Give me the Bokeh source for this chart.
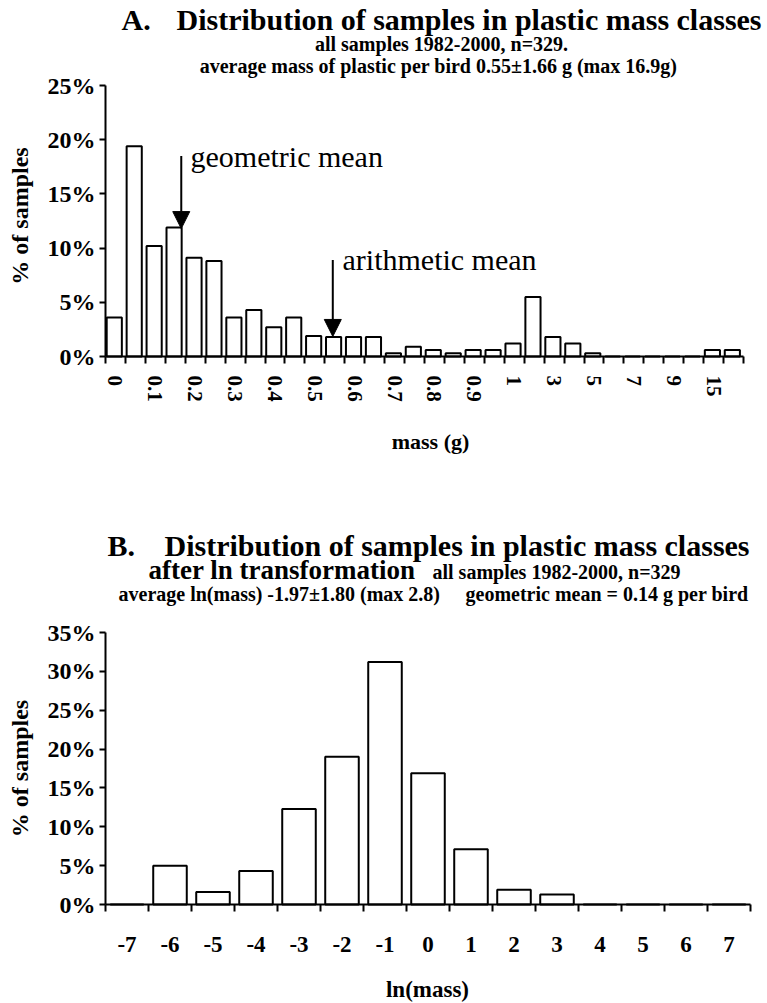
import math
from bokeh.plotting import figure
from bokeh.models import Range1d, FixedTicker, Label, Arrow, NormalHead, ColumnDataSource
from bokeh.layouts import column
from bokeh.embed import file_html
from bokeh.resources import INLINE

FONT = "Liberation Serif"

# ---------------- Panel A data: plastic mass classes (g) ----------------
mass_classes = ["0", "0.05", "0.1", "0.15", "0.2", "0.25", "0.3", "0.35", "0.4", "0.45",
                "0.5", "0.55", "0.6", "0.65", "0.7", "0.75", "0.8", "0.85", "0.9", "0.95",
                "1", "2", "3", "4", "5", "6", "7", "8", "9", "10", "15", "20"]
mass_pct = [3.6, 19.4, 10.2, 11.9, 9.1, 8.8, 3.6, 4.3, 2.7, 3.6,
            1.9, 1.8, 1.8, 1.8, 0.3, 0.9, 0.6, 0.3, 0.6, 0.6,
            1.2, 5.5, 1.8, 1.2, 0.3, 0, 0, 0, 0, 0, 0.6, 0.6]
mass_tick_labels = ["0", "0.1", "0.2", "0.3", "0.4", "0.5", "0.6", "0.7", "0.8", "0.9",
                    "1", "3", "5", "7", "9", "15"]
pct_ticks_a = [0, 5, 10, 15, 20, 25]
# arrow annotations (class-axis position, arrow top %, arrow tip %)
geo_arrow = (3.8, 18.5, 11.8)
arith_arrow = (11.4, 8.9, 1.85)

# ---------------- Panel B data: ln(mass) classes ----------------
ln_classes = [-7, -6, -5, -4, -3, -2, -1, 0, 1, 2, 3, 4, 5, 6, 7]
ln_pct = [0, 5.0, 1.6, 4.3, 12.3, 19.0, 31.2, 16.9, 7.1, 1.9, 1.3, 0, 0, 0, 0]
pct_ticks_b = [0, 5, 10, 15, 20, 25, 30, 35]

# ---------------- layout (page pixels) ----------------
W = 767
A_H = 488                      # height of panel A figure
B_H = 1003 - A_H               # height of panel B figure
LEFT = 105                     # y-axis position
A_AXIS_TOP, A_AXIS_BOT, A_AXIS_RIGHT = 85, 356, 743
B_AXIS_TOP, B_AXIS_BOT, B_AXIS_RIGHT = 632, 904, 750


def style_axes(p):
    for ax in (p.xaxis[0], p.yaxis[0]):
        ax.axis_line_color = "black"
        ax.axis_line_width = 2
        ax.major_tick_line_color = "black"
        ax.major_tick_line_width = 2
        ax.minor_tick_line_color = "black"
        ax.minor_tick_line_width = 2
        ax.major_label_text_font = FONT
        ax.major_label_text_font_style = "bold"
        ax.major_label_text_color = "black"
    p.yaxis.major_label_text_font_size = "24px"
    p.yaxis.major_tick_out = 6
    p.yaxis.major_tick_in = 0
    p.yaxis.major_label_standoff = 4
    p.xaxis.major_tick_out = 0
    p.xaxis.major_tick_in = 0
    p.xaxis.minor_tick_out = 7
    p.xaxis.minor_tick_in = 0
    p.xgrid.visible = False
    p.ygrid.visible = False
    p.outline_line_color = None
    p.background_fill_color = "white"
    p.border_fill_color = "white"


def make_label(x, y, text, size, bold=True, align="left", angle=0.0):
    return Label(x=x, y=y, text=text, text_font=FONT, text_font_size=size,
                 text_font_style="bold" if bold else "normal", angle=angle,
                 text_color="black", text_align=align, text_baseline="middle")


# ======================= Panel A =======================
n_a = len(mass_classes)
a_px_x = (A_AXIS_RIGHT - LEFT) / n_a          # pixels per class
a_px_y = (A_AXIS_BOT - A_AXIS_TOP) / 25.0     # pixels per percent


def pos_a(px, py):
    return (px - LEFT) / a_px_x, (A_AXIS_BOT - py) / a_px_y


centers_a = [i + 0.5 for i in range(n_a)]
src_a = ColumnDataSource(dict(x=[c - 0.06 for c in centers_a], top=mass_pct, cls=mass_classes))

pa = figure(width=W, height=A_H, title=None,
            x_range=Range1d(pos_a(0, 0)[0], pos_a(W, 0)[0]),
            y_range=Range1d(pos_a(0, A_H)[1], pos_a(0, 0)[1]),
            output_backend="svg", toolbar_location=None,
            min_border_left=0, min_border_right=0, min_border_top=0, min_border_bottom=0)
pa.vbar(x="x", top="top", width=0.76, source=src_a,
        fill_color="white", line_color="black", line_width=2)

style_axes(pa)
lab_idx = [i for i, c in enumerate(mass_classes) if c in mass_tick_labels]
pa.xaxis.ticker = FixedTicker(ticks=[centers_a[i] for i in lab_idx],
                              minor_ticks=list(range(n_a + 1)))
pa.xaxis.major_label_overrides = {centers_a[i]: mass_classes[i] for i in lab_idx}
pa.xaxis.major_label_orientation = "vertical"
pa.xaxis.major_label_text_font_size = "21px"
pa.xaxis.major_label_standoff = 12
pa.xaxis.bounds = (0, n_a)
pa.xaxis.fixed_location = 0
pa.yaxis.ticker = FixedTicker(ticks=pct_ticks_a, minor_ticks=[])
pa.yaxis.major_label_overrides = {t: f"{t}%" for t in pct_ticks_a}
pa.yaxis.bounds = (0, 25)
pa.yaxis.fixed_location = 0

for (ax_x, y0, y1) in (geo_arrow, arith_arrow):
    pa.add_layout(Arrow(end=NormalHead(size=17, fill_color="black", line_color="black", line_width=1),
                        x_start=ax_x, y_start=y0, x_end=ax_x, y_end=y1,
                        line_color="black", line_width=2))

pa.add_layout(make_label(*pos_a(121, 19), "A.", "30px"))
pa.add_layout(make_label(*pos_a(176, 19), "Distribution of samples in plastic mass classes", "30px"))
pa.add_layout(make_label(*pos_a(441, 43), "all samples 1982-2000, n=329.", "20px", align="center"))
pa.add_layout(make_label(*pos_a(438, 65),
                         "average mass of plastic per bird 0.55\u00b11.66 g (max 16.9g)", "20px",
                         align="center"))
pa.add_layout(make_label(*pos_a(190, 156), "geometric mean", "30px", bold=False))
pa.add_layout(make_label(*pos_a(342, 259), "arithmetic mean", "30px", bold=False))
pa.add_layout(make_label(*pos_a(430, 441), "mass (g)", "22px", align="center"))
pa.add_layout(make_label(*pos_a(19, (A_AXIS_TOP + A_AXIS_BOT) / 2 - 5), "% of samples", "24px",
                         align="center", angle=math.pi / 2))

# ======================= Panel B =======================
n_b = len(ln_classes)
b_px_x = (B_AXIS_RIGHT - LEFT) / n_b
b_px_y = (B_AXIS_BOT - B_AXIS_TOP) / 35.0
x0_b = ln_classes[0] - 0.5


def pos_b(px, py):
    return (px - LEFT) / b_px_x + x0_b, (B_AXIS_BOT - py) / b_px_y


src_b = ColumnDataSource(dict(x=ln_classes, top=ln_pct))
pb = figure(width=W, height=B_H, title=None,
            x_range=Range1d(pos_b(0, 0)[0], pos_b(W, 0)[0]),
            y_range=Range1d(pos_b(0, 1003)[1], pos_b(0, A_H)[1]),
            output_backend="svg", toolbar_location=None,
            min_border_left=0, min_border_right=0, min_border_top=0, min_border_bottom=0)
pb.vbar(x="x", top="top", width=0.78, source=src_b,
        fill_color="white", line_color="black", line_width=2)

style_axes(pb)
pb.xaxis.ticker = FixedTicker(ticks=ln_classes,
                              minor_ticks=[c - 0.5 for c in ln_classes] + [ln_classes[-1] + 0.5])
pb.xaxis.major_label_overrides = {c: str(c) for c in ln_classes}
pb.xaxis.major_label_text_font_size = "23px"
pb.xaxis.major_label_standoff = 25
pb.xaxis.bounds = (x0_b, ln_classes[-1] + 0.5)
pb.xaxis.fixed_location = 0
pb.yaxis.ticker = FixedTicker(ticks=pct_ticks_b, minor_ticks=[])
pb.yaxis.major_label_overrides = {t: f"{t}%" for t in pct_ticks_b}
pb.yaxis.bounds = (0, 35)
pb.yaxis.fixed_location = x0_b

pb.add_layout(make_label(*pos_b(107, 545), "B.", "30px"))
pb.add_layout(make_label(*pos_b(164, 545), "Distribution of samples in plastic mass classes", "30px"))
pb.add_layout(make_label(*pos_b(148, 569), "after ln transformation", "27px"))
pb.add_layout(make_label(*pos_b(432, 571), "all samples 1982-2000, n=329", "20px"))
pb.add_layout(make_label(*pos_b(118, 593), "average ln(mass) -1.97\u00b11.80 (max 2.8)", "20px"))
pb.add_layout(make_label(*pos_b(465, 593), "geometric mean = 0.14 g per bird", "20px"))
pb.add_layout(make_label(*pos_b(427, 989), "ln(mass)", "23px", align="center"))
pb.add_layout(make_label(*pos_b(19, (B_AXIS_TOP + B_AXIS_BOT) / 2), "% of samples", "24px",
                         align="center", angle=math.pi / 2))

layout = column(pa, pb, spacing=0)
open("out.html", "w").write(file_html(layout, INLINE))
